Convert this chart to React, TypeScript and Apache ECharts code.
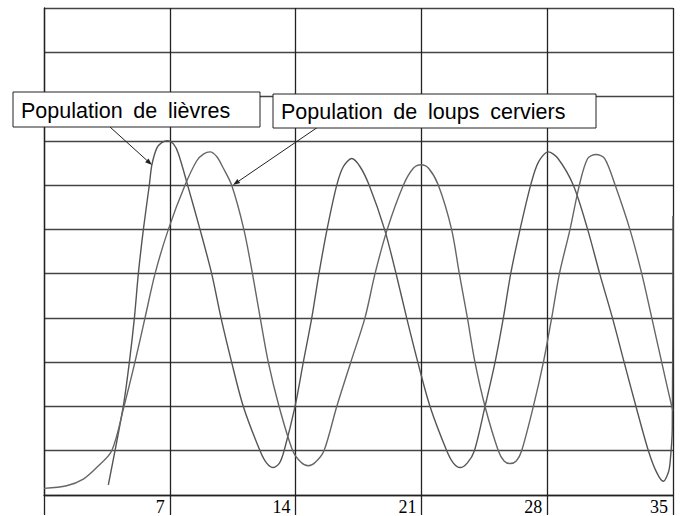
import React, { useEffect, useRef } from "react";
import * as echarts from "echarts";

// x = time, y = population (grid units)
const xTicks = [0, 7, 14, 21, 28, 35];

const hareX = [3.58, 4.41, 4.75, 5.03, 5.25, 5.53, 5.86, 6.0, 6.27, 6.55, 6.88, 7.2, 7.47, 7.99, 8.68, 9.33, 9.85, 10.44, 11.09, 12.02, 12.39, 12.76, 13.1, 13.36, 13.97, 14.43, 14.9, 15.3, 15.75, 16.29, 16.66, 17.12, 17.58, 18.09, 18.95, 19.59, 20.18, 20.8, 21.48, 22.41, 22.78, 23.15, 23.55, 23.95, 24.54, 25.1, 25.56, 25.97, 26.49, 27.08, 27.51, 28.06, 28.6, 29.45, 30.25, 30.92, 31.63, 32.28, 32.94, 33.63, 34.09, 34.46, 34.74, 34.84, 34.96, 35.0];
const hareY = [0.23, 2.0, 3.0, 4.0, 5.0, 6.0, 7.0, 7.45, 7.83, 7.96, 8.0, 7.93, 7.72, 7.0, 6.0, 5.0, 4.0, 3.0, 2.0, 1.0, 0.72, 0.62, 0.72, 1.0, 2.0, 3.0, 4.0, 5.0, 6.0, 7.0, 7.42, 7.6, 7.42, 7.0, 6.0, 5.0, 4.0, 3.0, 2.0, 1.0, 0.72, 0.62, 0.72, 1.0, 2.0, 3.0, 4.0, 5.0, 6.0, 7.0, 7.52, 7.75, 7.6, 7.0, 6.0, 5.0, 4.0, 3.0, 2.0, 1.0, 0.51, 0.31, 0.51, 0.74, 1.49, 6.3];

const lynxX = [0, 1.26, 2.19, 2.93, 3.77, 4.45, 5.06, 5.62, 6.18, 6.92, 7.85, 8.5, 8.87, 9.24, 9.62, 9.98, 10.44, 11.12, 11.6, 12.03, 12.48, 13.08, 13.84, 14.3, 14.71, 15.1, 15.58, 16.29, 17.07, 17.86, 18.42, 19.1, 20.0, 20.55, 20.98, 21.4, 21.94, 22.68, 23.11, 23.56, 23.98, 24.54, 25.28, 25.6, 25.93, 26.28, 26.58, 27.23, 27.79, 28.25, 28.68, 29.27, 29.79, 30.25, 30.72, 31.2, 31.78, 32.6, 33.26, 33.82, 34.37, 34.93, 35.0];
const lynxY = [0.15, 0.21, 0.36, 0.62, 1.0, 2.0, 3.0, 4.0, 5.0, 6.0, 7.0, 7.55, 7.7, 7.75, 7.64, 7.38, 7.0, 6.0, 5.0, 4.0, 3.0, 2.0, 1.0, 0.74, 0.66, 0.74, 1.0, 2.0, 3.0, 4.0, 5.0, 6.0, 7.0, 7.38, 7.46, 7.38, 7.0, 6.0, 5.0, 4.0, 3.0, 2.0, 1.0, 0.77, 0.71, 0.77, 1.0, 2.0, 3.0, 4.0, 5.0, 6.0, 7.0, 7.6, 7.69, 7.6, 7.0, 6.0, 5.0, 4.0, 3.0, 2.0, 1.9];

const labelHare = "Population\u2002de\u2002lièvres";
const labelLynx = "Population\u2002de\u2002loups\u2002cerviers";

function arrow(x1: number, y1: number, x2: number, y2: number) {
  const dx = x2 - x1;
  const dy = y2 - y1;
  const L = Math.hypot(dx, dy);
  const ux = dx / L;
  const uy = dy / L;
  const len = 7;
  const hw = 2.5;
  const bx = x2 - ux * len;
  const by = y2 - uy * len;
  return [
    { type: "line", z: 100, shape: { x1, y1, x2: bx, y2: by }, style: { stroke: "#222", lineWidth: 1 } },
    {
      type: "polygon",
      z: 100,
      shape: { points: [[x2, y2], [bx - uy * hw, by + ux * hw], [bx + uy * hw, by - ux * hw]] },
      style: { fill: "#222" },
    },
  ];
}

function box(x: number, y: number, w: number, h: number, text: string) {
  return [
    { type: "rect", z: 100, shape: { x, y, width: w, height: h }, style: { fill: "#fff", stroke: "#222", lineWidth: 1 } },
    {
      type: "text",
      z: 101,
      x: x + 8,
      y: y + h / 2 + 1,
      style: {
        text,
        fill: "#000",
        fontSize: 21.5,
        fontFamily: "Liberation Sans, Arial, sans-serif",
        verticalAlign: "middle",
        textVerticalAlign: "middle",
        align: "left",
      },
    },
  ];
}

export default function App() {
  const ref = useRef<HTMLDivElement>(null);
  useEffect(() => {
    if (!ref.current) return;
    const chart = echarts.init(ref.current, null, { renderer: "svg" });
    const hare = hareX.map((x, i) => [x, hareY[i]]);
    const lynx = lynxX.map((x, i) => [x, lynxY[i]]);
    chart.setOption({
      animation: false,
      backgroundColor: "#fff",
      grid: { left: 44, right: 8, top: 8, bottom: 20 },
      xAxis: {
        type: "value",
        min: xTicks[0],
        max: xTicks[xTicks.length - 1],
        interval: 7,
        axisLine: { show: true, lineStyle: { color: "#222", width: 1.3 } },
        axisTick: { show: true, length: 20, lineStyle: { color: "#222", width: 1.3 } },
        splitLine: { show: true, lineStyle: { color: "#222", width: 1.3 } },
        axisLabel: {
          formatter: (v: number) => (v === 0 ? "" : String(v)),
          align: "right",
          margin: 3,
          padding: [0, 5, 0, 0],
          fontSize: 18,
          fontFamily: "Liberation Serif, Times New Roman, serif",
          color: "#000",
        },
      },
      yAxis: {
        type: "value",
        min: 0,
        max: 11,
        interval: 1,
        axisLine: { show: true, lineStyle: { color: "#222", width: 1.3 } },
        axisTick: { show: false },
        axisLabel: { show: false },
        splitLine: { show: true, lineStyle: { color: "#444", width: 1.3 } },
      },
      series: [
        {
          name: "Population de lièvres",
          type: "line",
          data: hare,
          symbol: "none",
          smooth: 0.3,
          lineStyle: { color: "#555", width: 1.4 },
        },
        {
          name: "Population de loups cerviers",
          type: "line",
          data: lynx,
          symbol: "none",
          smooth: 0.3,
          lineStyle: { color: "#666", width: 1.4 },
        },
      ],
      graphic: [
        ...arrow(110, 127, 152, 165),
        ...arrow(318, 127, 233, 185),
        ...box(13, 92, 247, 35, labelHare),
        ...box(273, 94, 323, 34, labelLynx),
      ],
    });
    return () => chart.dispose();
  }, []);
  return (
    <div
      ref={ref}
      style={{ position: "fixed", left: 0, top: 0, width: 681, height: 516, background: "#fff" }}
    />
  );
}
